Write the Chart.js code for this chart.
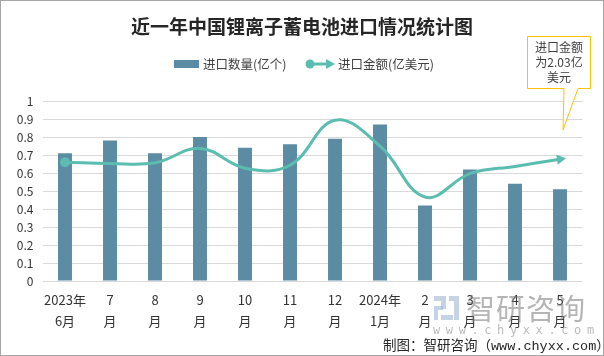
<!DOCTYPE html>
<html><head><meta charset="utf-8">
<script src="https://cdn.jsdelivr.net/npm/chart.js@4/dist/chart.umd.min.js"></script>
<style>
html,body{margin:0;padding:0;background:#fff;}
#wrap{position:relative;width:604px;height:356px;overflow:hidden;font-family:"Noto Sans CJK SC","Noto Sans",sans-serif;}
#c{position:absolute;left:0;top:0;}
.t{position:absolute;white-space:nowrap;}
#frame{position:absolute;left:0;top:0;width:602px;height:354px;border:1px solid #a6a6a6;pointer-events:none;}
</style></head>
<body>
<div id="wrap">
<canvas id="c" width="604" height="356"></canvas>
<div class="t" style="left:0;width:604px;top:13px;text-align:center;font-size:19px;font-weight:bold;color:#262626;line-height:26px;">近一年中国锂离子蓄电池进口情况统计图</div>
<svg style="position:absolute;left:0;top:0" width="604" height="356">
  <rect x="174" y="60" width="25" height="8" fill="#5b8ca3"/>
  <line x1="310" y1="64" x2="328" y2="64" stroke="#5bbcb0" stroke-width="3"/>
  <circle cx="310" cy="64" r="4.5" fill="#5bbcb0"/>
  <polygon points="326,59 335,64 326,69" fill="#5bbcb0"/>
  <path d="M527.5,36.5 H590.5 V88.5 H578 L563,130 L564,88.5 H527.5 Z" fill="#fff" stroke="#ffc000" stroke-width="1"/>
  <g fill="rgba(150,175,205,0.55)">
    <rect x="434" y="296" width="12" height="5"/>
    <rect x="441" y="301" width="5" height="8"/>
    <rect x="434" y="306" width="9" height="4"/>
    <rect x="434" y="310" width="4" height="10"/>
    <rect x="449" y="296" width="10" height="5"/>
    <rect x="454" y="301" width="5" height="19"/>
    <rect x="441" y="315" width="12" height="5"/>
  </g>
</svg>
<div class="t" style="left:466px;top:288px;font-size:29px;line-height:38px;color:rgba(120,120,120,0.55);letter-spacing:1px;">智研咨询</div>
<div class="t" style="left:433px;top:323px;font-size:12px;line-height:14px;color:rgba(120,120,120,0.5);letter-spacing:5.6px;font-family:'DejaVu Sans Mono',monospace;">www.chyxx.com</div>
<div class="t" style="left:203px;top:55px;font-size:12.5px;line-height:18px;color:#404040;">进口数量(亿个)</div>
<div class="t" style="left:338px;top:55px;font-size:12.5px;line-height:18px;color:#404040;">进口金额(亿美元)</div>
<div class="t" style="left:528px;width:62px;top:39px;text-align:center;font-size:12px;line-height:15px;color:#404040;">进口金额<br>为2.03亿<br>美元</div>
<div class="t" style="left:383px;top:335px;font-size:13.5px;line-height:18px;color:#262626;">制图：智研咨询（<span style="font-family:'Liberation Mono','DejaVu Sans Mono',monospace;">www.chyxx.com</span>）</div>
<div id="frame"></div>
</div>
<script>
const categories = ['2023-06','2023-07','2023-08','2023-09','2023-10','2023-11','2023-12','2024-01','2024-02','2024-03','2024-04','2024-05'];
const tickLine1 = ['2023年','7','8','9','10','11','12','2024年','2','3','4','5'];
const tickLine2 = ['6月','月','月','月','月','月','月','1月','月','月','月','月'];
const importQty = [0.71,0.78,0.71,0.80,0.74,0.76,0.79,0.87,0.42,0.62,0.54,0.51];
const importValue = [1.98,1.96,1.97,2.21,1.88,1.93,2.68,2.25,1.40,1.79,1.91,2.03];
const qtyLabel = '进口数量(亿个)';
const valueLabel = '进口金额(亿美元)';

const labels = categories.map((c,i)=>[tickLine1[i], tickLine2[i]]);
const last = importValue.length - 1;
const teal = '#5bbcb0';

new Chart(document.getElementById('c'), {
  data: {
    labels: labels,
    datasets: [
      {
        type: 'line', label: valueLabel, data: importValue, yAxisID: 'y1', order: 0,
        borderColor: teal, borderWidth: 3, tension: 0.4, fill: false,
        backgroundColor: teal,
        pointBackgroundColor: teal, pointBorderColor: teal, pointBorderWidth: 0,
        pointRadius: ctx => ctx.dataIndex === 0 ? 5 : (ctx.dataIndex === last ? 6 : 0),
        pointStyle: ctx => ctx.dataIndex === last ? 'triangle' : 'circle',
        pointRotation: ctx => ctx.dataIndex === last ? 82 : 0
      },
      {
        type: 'bar', label: qtyLabel, data: importQty, yAxisID: 'y', order: 1,
        backgroundColor: '#5b8ca3', barPercentage: 0.31, categoryPercentage: 1.0
      }
    ]
  },
  options: {
    responsive: false, animation: false,
    layout: { padding: { top: 101, right: 21.5, left: 0, bottom: 0 } },
    plugins: { legend: { display: false }, tooltip: { enabled: false }, title: { display: false } },
    scales: {
      x: {
        grid: { display: false, drawTicks: false },
        border: { display: false },
        ticks: { color: '#333', font: { family: 'Noto Sans CJK SC', size: 13, lineHeight: 1.65 }, padding: 8, maxRotation: 0, autoSkip: false },
        afterFit: s => { s.height = 75; }
      },
      y: {
        min: 0, max: 1,
        ticks: { stepSize: 0.1, color: '#333', font: { family: 'Noto Sans CJK SC', size: 12 }, padding: 9,
                 callback: v => String(Number(Number(v).toFixed(1))) },
        grid: { color: '#d9d9d9', drawTicks: false },
        border: { display: false },
        afterFit: s => { s.width = 42.5; }
      },
      y1: { min: 0, max: 3, display: false }
    }
  }
});
</script>
</body></html>
